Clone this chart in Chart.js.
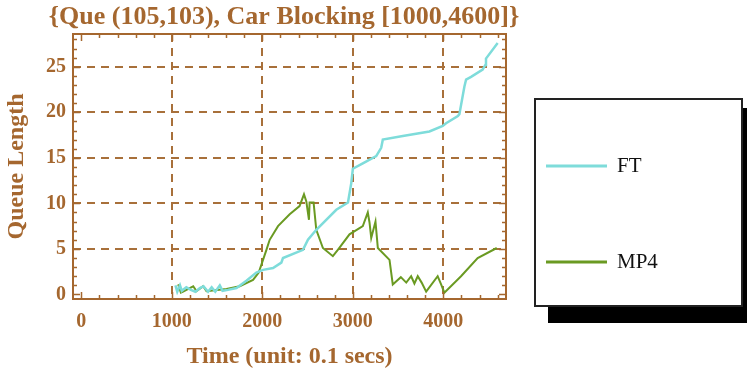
<!DOCTYPE html>
<html>
<head>
<meta charset="utf-8">
<script src="https://cdn.jsdelivr.net/npm/chart.js@4.4.1/dist/chart.umd.min.js"></script>
<style>
  html, body { margin: 0; padding: 0; background: #ffffff; }
  #wrap { position: relative; width: 747px; height: 373px; }
</style>
</head>
<body>
<div id="wrap"><canvas id="chart" width="747" height="373"></canvas></div>
<script>
// Queue length over time for the two control strategies
const chartTitle = "{Que (105,103), Car Blocking [1000,4600]}";
const xTitle = "Time (unit: 0.1 secs)";
const yTitle = "Queue Length";
const seriesNames = ["FT", "MP4"];

const xTickValues = [0, 1000, 2000, 3000, 4000];
const yTickValues = [0, 5, 10, 15, 20, 25];

const ftTime  = [1040, 1060, 1090, 1110, 1160, 1210, 1260, 1310, 1350, 1400, 1440, 1480, 1530, 1560, 1620, 1714,
                 1824, 1934, 2008, 2118, 2210, 2228, 2449, 2504, 2596, 2817, 2946, 2982, 3000, 3110, 3258, 3313,
                 3331, 3552, 3846, 3993, 4030, 4160, 4177, 4232, 4251, 4306, 4434, 4464, 4471, 4600];
const ftQueue = [1.0, 0.3, 1.0, 0.4, 0.8, 0.5, 0.3, 0.7, 0.9, 0.3, 0.8, 0.3, 1.0, 0.4, 0.5, 0.7,
                 1.5, 2.4, 2.7, 2.9, 3.5, 4.0, 4.9, 6.0, 7.1, 9.3, 10.1, 12.2, 13.8, 14.4, 15.2, 16.1,
                 17.0, 17.4, 17.9, 18.5, 18.8, 19.6, 19.8, 22.8, 23.6, 23.9, 24.7, 25.2, 25.9, 27.6];

const mp4Time  = [1070, 1100, 1125, 1236, 1273, 1346, 1383, 1500, 1604, 1750, 1897, 1960, 2045, 2081, 2173, 2302,
                  2411, 2460, 2486, 2515, 2522, 2566, 2596, 2669, 2779, 2834, 2963, 3110, 3165, 3184, 3203, 3250,
                  3276, 3405, 3441, 3530, 3590, 3644, 3680, 3717, 3760, 3810, 3937, 3975, 4011, 4195, 4379, 4590];
const mp4Queue = [1.1, 0.2, 0.3, 0.9, 0.36, 0.9, 0.36, 0.5, 0.6, 0.9, 1.6, 2.4, 4.9, 6.0, 7.5, 8.8,
                  9.7, 11.0, 10.2, 8.2, 10.1, 10.1, 7.1, 5.1, 4.2, 4.9, 6.6, 7.5, 9.0, 7.9, 6.2, 8.0,
                  5.1, 3.8, 1.1, 1.9, 1.3, 2.0, 1.2, 2.0, 1.3, 0.3, 2.0, 1.1, 0.2, 2.0, 4.0, 5.1];

const BROWN = "#A5672F";
const GRID_BROWN = "#A8703A";
const FT_COLOR = "#7EDCDA";
const MP4_COLOR = "#6A9A22";
const SERIF = "'Liberation Serif', 'Times New Roman', serif";

function toPoints(xs, ys) {
  return xs.map((x, i) => ({ x: x, y: ys[i] }));
}

// Frame with inward tick marks on all four sides, plus the chart title
const framePlugin = {
  id: "frame",
  afterDatasetsDraw(chart) {
    const { ctx, chartArea: a, scales: { x, y } } = chart;
    ctx.save();
    ctx.strokeStyle = BROWN;
    ctx.lineWidth = 2;
    ctx.strokeRect(a.left, a.top, a.right - a.left, a.bottom - a.top);
    ctx.lineWidth = 1.5;
    ctx.beginPath();
    for (let v = 0; v <= 4600; v += 200) {
      const px = Math.round(x.getPixelForValue(v)) + 0.5;
      const len = v % 1000 === 0 ? 7 : 4;
      ctx.moveTo(px, a.bottom); ctx.lineTo(px, a.bottom - len);
      ctx.moveTo(px, a.top); ctx.lineTo(px, a.top + len);
    }
    for (let v = 0; v <= 28; v += 1) {
      const py = Math.round(y.getPixelForValue(v)) + 0.5;
      const len = v % 5 === 0 ? 7 : 4;
      ctx.moveTo(a.left, py); ctx.lineTo(a.left + len, py);
      ctx.moveTo(a.right, py); ctx.lineTo(a.right - len, py);
    }
    ctx.stroke();
    ctx.restore();
  },
  afterDraw(chart) {
    const { ctx } = chart;
    ctx.save();
    ctx.fillStyle = BROWN;
    ctx.font = "bold 26px " + SERIF;
    ctx.textAlign = "center";
    ctx.textBaseline = "middle";
    ctx.fillText(chartTitle, 284, 17);
    ctx.restore();
  }
};

// Boxed legend with a drop shadow, to the right of the plot
const boxLegendPlugin = {
  id: "boxLegend",
  afterDraw(chart) {
    const { ctx } = chart;
    const box = { left: 535, top: 99, right: 742, bottom: 306 };
    ctx.save();
    ctx.fillStyle = "#000000";
    ctx.fillRect(548, 108, 747 - 548, 323 - 108);
    ctx.fillStyle = "#ffffff";
    ctx.fillRect(box.left, box.top, box.right - box.left, box.bottom - box.top);
    ctx.strokeStyle = "#222222";
    ctx.lineWidth = 2;
    ctx.strokeRect(box.left, box.top, box.right - box.left, box.bottom - box.top);
    const rows = [166, 262];
    chart.data.datasets.forEach((ds, i) => {
      const yy = rows[i];
      ctx.strokeStyle = ds.borderColor;
      ctx.lineWidth = 3;
      ctx.beginPath();
      ctx.moveTo(546, yy); ctx.lineTo(607, yy);
      ctx.stroke();
      ctx.fillStyle = "#111111";
      ctx.font = "21px " + SERIF;
      ctx.textAlign = "left";
      ctx.textBaseline = "middle";
      ctx.fillText(ds.label, 617, yy);
    });
    ctx.restore();
  }
};

const gridColor = (ctx) => (ctx.tick && ctx.tick.value === 0 ? "rgba(0,0,0,0)" : GRID_BROWN);

new Chart(document.getElementById("chart"), {
  type: "line",
  data: {
    datasets: [
      { label: seriesNames[0], data: toPoints(ftTime, ftQueue), borderColor: FT_COLOR,
        borderWidth: 2.5, pointRadius: 0, tension: 0, fill: false },
      { label: seriesNames[1], data: toPoints(mp4Time, mp4Queue), borderColor: MP4_COLOR,
        borderWidth: 2, pointRadius: 0, tension: 0, fill: false }
    ]
  },
  options: {
    responsive: false,
    animation: false,
    events: [],
    layout: { padding: { top: 34, right: 241, left: 0, bottom: 0 } },
    plugins: { legend: { display: false }, title: { display: false }, tooltip: { enabled: false } },
    scales: {
      x: {
        type: "linear",
        min: -92,
        max: 4692,
        afterBuildTicks: (s) => { s.ticks = xTickValues.map(v => ({ value: v })); },
        afterFit: (s) => { s.height = 74; },
        grid: { color: gridColor, lineWidth: 2, drawTicks: false },
        border: { display: false, dash: [8, 6] },
        ticks: { color: BROWN, font: { family: SERIF, size: 20, weight: "bold" }, padding: 11,
                 maxRotation: 0, autoSkip: false, callback: (v) => String(v) },
        title: { display: true, text: xTitle, color: BROWN,
                 font: { family: SERIF, size: 24, weight: "bold" }, padding: { top: 0, bottom: 2 } }
      },
      y: {
        type: "linear",
        min: -0.5,
        max: 28.6,
        afterBuildTicks: (s) => { s.ticks = yTickValues.map(v => ({ value: v })); },
        afterFit: (s) => { s.width = 73; },
        grid: { color: gridColor, lineWidth: 2, drawTicks: false },
        border: { display: false, dash: [8, 6] },
        ticks: { color: BROWN, font: { family: SERIF, size: 20, weight: "bold" }, padding: 7,
                 autoSkip: false, callback: (v) => String(v) },
        title: { display: true, text: yTitle, color: BROWN,
                 font: { family: SERIF, size: 24, weight: "bold" }, padding: { top: 2, bottom: 0 } }
      }
    }
  },
  plugins: [framePlugin, boxLegendPlugin]
});
</script>
</body>
</html>
